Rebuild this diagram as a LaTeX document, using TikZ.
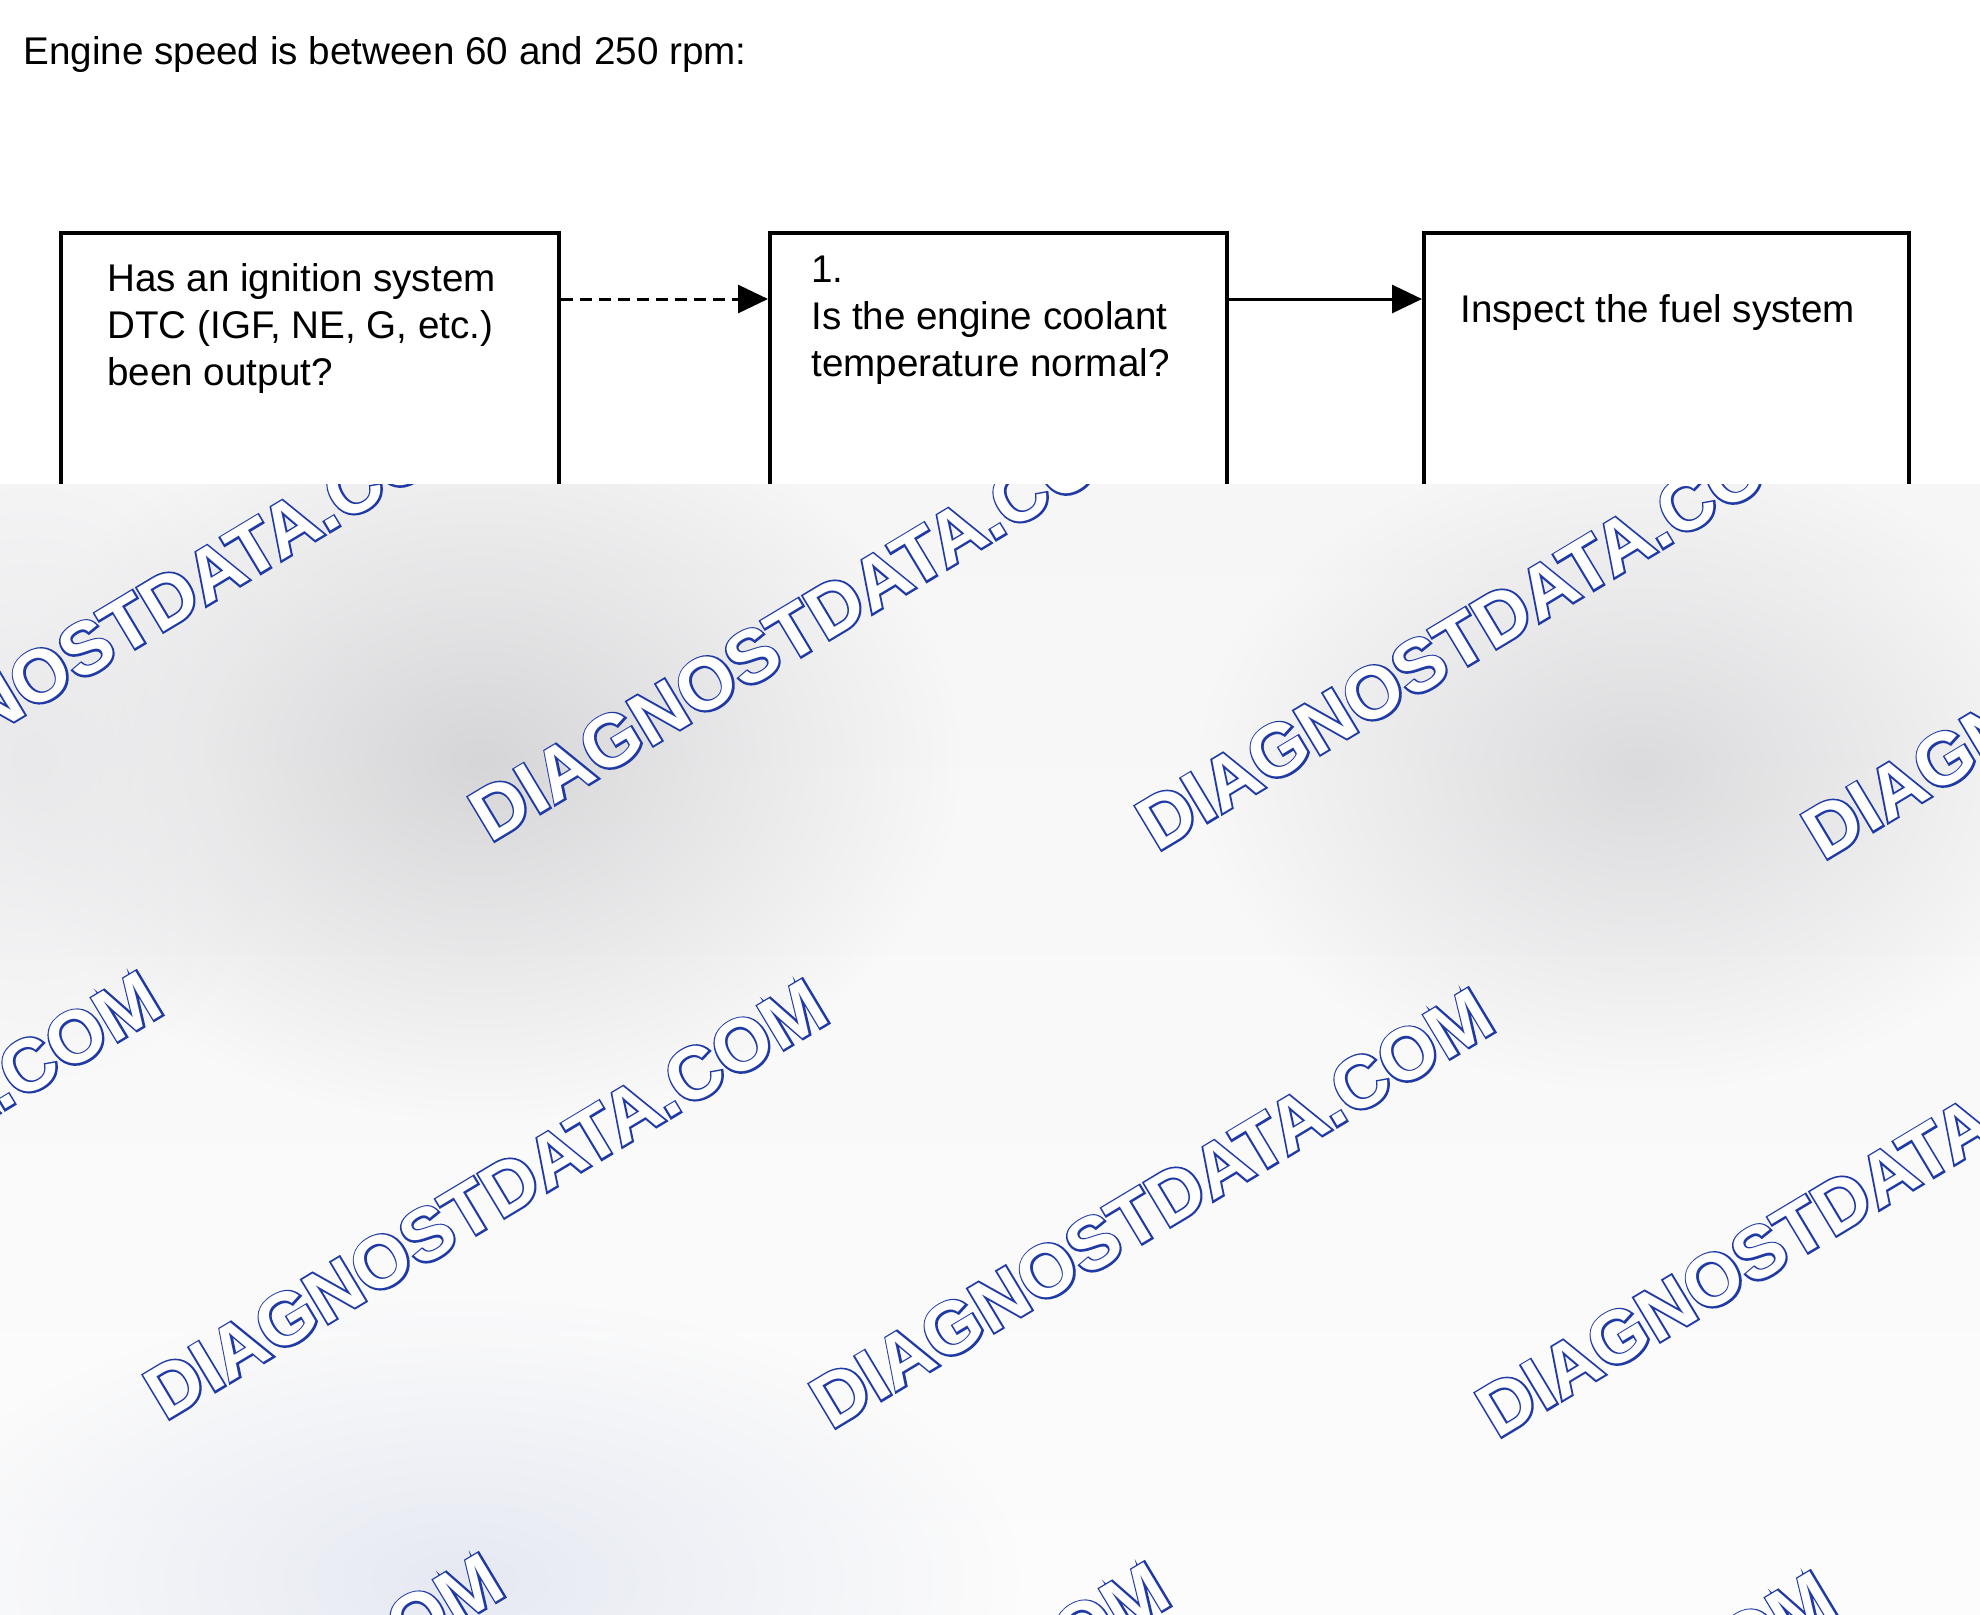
\documentclass[tikz,border=0pt]{standalone}
\usepackage{fontspec}
\setmainfont{Liberation Sans}
\newfontfamily\wmbold{Liberation Sans}[BoldFeatures={FakeBold=5}]
\newfontfamily\wmplain{Liberation Sans}
\usetikzlibrary{arrows.meta}
\usetikzlibrary{fadings}
\definecolor{panelgray}{RGB}{246,246,247}
\definecolor{panellight}{RGB}{252,252,252}
\definecolor{blobgray}{RGB}{214,214,216}
\definecolor{blobblue}{RGB}{230,233,242}
\definecolor{wmblue}{RGB}{32,58,165}
\newcommand{\wmark}{\rlap{\color{wmblue}\wmbold\bfseries DIAGNOSTDATA.COM}{\color{white}\wmplain\bfseries DIAGNOSTDATA.COM}}
\tikzfading[name=softblob, inner color=transparent!0, outer color=transparent!100]
\tikzset{
  flowbox/.style={draw=black, line width=1.8pt, anchor=north west, minimum height=200pt, inner sep=0pt},
  boxtext/.style={anchor=north west, align=left, inner sep=0pt, font=\fontsize{19.3}{23.5}\selectfont},
  flowarrow/.style={line width=1.5pt, -{Triangle[length=15pt,width=14pt]}},
  wmtext/.style={rotate=31, inner sep=0pt, font=\fontsize{37}{40}\selectfont}
}
\begin{document}
\begin{tikzpicture}[x=0.5pt,y=-0.5pt]
\useasboundingbox (0,0) rectangle (1980,1614);
\fill[white] (0,0) rectangle (1980,1614);

\node[boxtext] (title) at (23,36) {Engine speed is between 60 and 250 rpm:};

\node[flowbox, minimum width=249pt] (dtc) at (59,231) {};
\node[flowbox, minimum width=228.5pt] (coolant) at (768,231) {};
\node[flowbox, minimum width=242.5pt] (fuel) at (1422,231) {};
\node[boxtext] (dtctext) at (107,263) {Has an ignition system\\DTC (IGF, NE, G, etc.)\\been output?};
\node[boxtext] (coolanttext) at (811,256) {1.\\Is the engine coolant\\temperature normal?};
\node[boxtext] (fueltext) at (1460,294) {Inspect the fuel system};

\draw[flowarrow, dash pattern=on 6pt off 3.5pt] ([yshift=-34pt]dtc.north east) -- ([yshift=-34pt]coolant.north west);
\draw[flowarrow] ([yshift=-34pt]coolant.north east) -- ([yshift=-34pt]fuel.north west);

% watermark panel
\shade[top color=panelgray, bottom color=panellight] (0,484) rectangle (1980,1614);
\begin{scope}
\clip (0,484) rectangle (1980,1614);
\fill[blobgray, path fading=softblob] (480,760) ellipse [x radius=480, y radius=360];
\fill[blobgray!85!panelgray, path fading=softblob] (1640,770) ellipse [x radius=440, y radius=320];
\fill[blobgray!40!panelgray, path fading=softblob] (30,760) ellipse [x radius=260, y radius=320];
\fill[blobblue, path fading=softblob] (460,1580) ellipse [x radius=560, y radius=280];
\node[wmtext] (wma1) at (145,613) {\wmark};
\node[wmtext] (wma2) at (811,621) {\wmark};
\node[wmtext] (wma3) at (1478,630) {\wmark};
\node[wmtext] (wma4) at (2144,639) {\wmark};
\node[wmtext] (wmb1) at (-180,1191) {\wmark};
\node[wmtext] (wmb2) at (486,1199) {\wmark};
\node[wmtext] (wmb3) at (1152,1208) {\wmark};
\node[wmtext] (wmb4) at (1818,1217) {\wmark};
\node[wmtext] (wmc1) at (162,1773) {\wmark};
\node[wmtext] (wmc2) at (828,1782) {\wmark};
\node[wmtext] (wmc3) at (1494,1791) {\wmark};
\end{scope}
\end{tikzpicture}
\end{document}
